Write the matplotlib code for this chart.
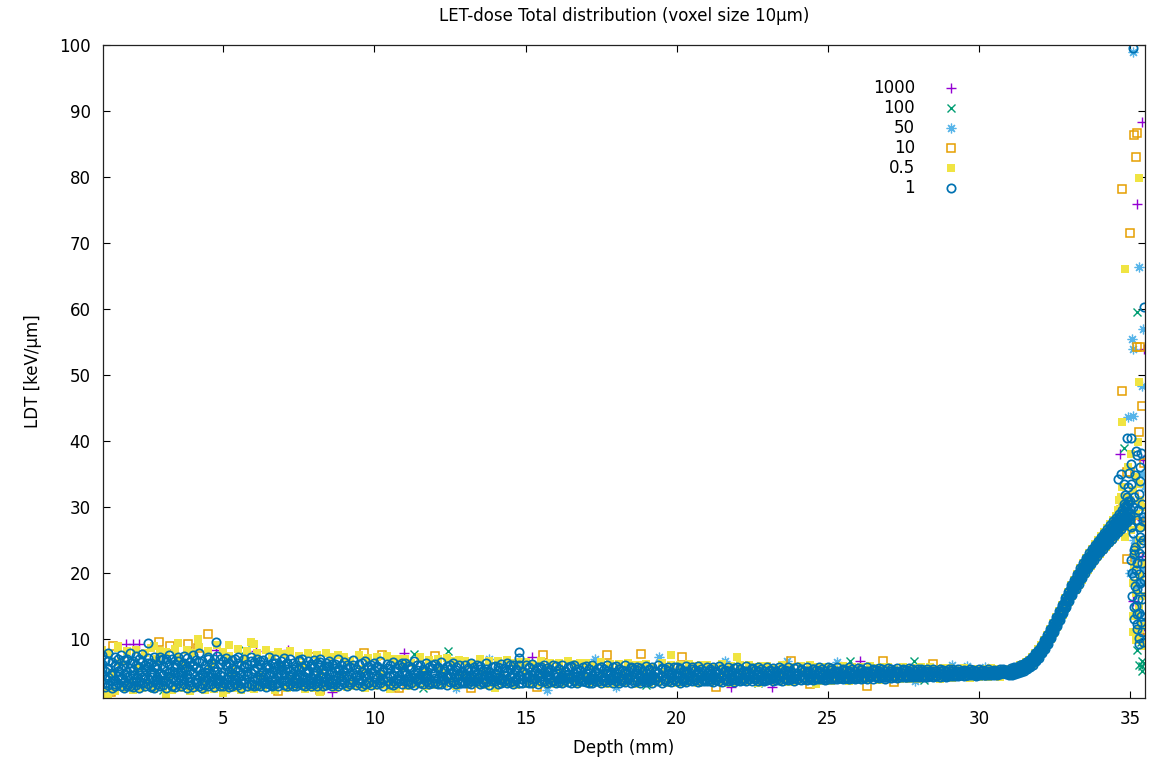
import matplotlib
matplotlib.use("Agg")
import matplotlib.pyplot as plt

# series in gnuplot plotting order (last one drawn on top)
series_names = ["1000", "100", "50", "10", "0.5", "1"]
series_colors = ["#9400d3", "#009e73", "#56b4e9", "#e69f00", "#f0e442", "#0072b2"]

# depth grid shared by the dense band (mm)
band_depth = [
    1.0, 1.1, 1.2, 1.3, 1.4, 1.5, 1.6, 1.7, 1.8, 1.9,
    2.0, 2.1, 2.2, 2.3, 2.4, 2.5, 2.6, 2.7, 2.8, 2.9,
    3.0, 3.1, 3.2, 3.3, 3.4, 3.5, 3.6, 3.7, 3.8, 3.9,
    4.0, 4.1, 4.2, 4.3, 4.4, 4.5, 4.6, 4.7, 4.8, 4.9,
    5.0, 5.1, 5.2, 5.3, 5.4, 5.5, 5.6, 5.7, 5.8, 5.9,
    6.0, 6.1, 6.2, 6.3, 6.4, 6.5, 6.6, 6.7, 6.8, 6.9,
    7.0, 7.1, 7.2, 7.3, 7.4, 7.5, 7.6, 7.7, 7.8, 7.9,
    8.0, 8.1, 8.2, 8.3, 8.4, 8.5, 8.6, 8.7, 8.8, 8.9,
    9.0, 9.1, 9.2, 9.3, 9.4, 9.5, 9.6, 9.7, 9.8, 9.9,
    10.0, 10.1, 10.2, 10.3, 10.4, 10.5, 10.6, 10.7, 10.8, 10.9,
    11.0, 11.1, 11.2, 11.3, 11.4, 11.5, 11.6, 11.7, 11.8, 11.9,
    12.0, 12.1, 12.2, 12.3, 12.4, 12.5, 12.6, 12.7, 12.8, 12.9,
    13.0, 13.1, 13.2, 13.3, 13.4, 13.5, 13.6, 13.7, 13.8, 13.9,
    14.0, 14.1, 14.2, 14.3, 14.4, 14.5, 14.6, 14.7, 14.8, 14.9,
    15.0, 15.1, 15.2, 15.3, 15.4, 15.5, 15.6, 15.7, 15.8, 15.9,
    16.0, 16.1, 16.2, 16.3, 16.4, 16.5, 16.6, 16.7, 16.8, 16.9,
    17.0, 17.1, 17.2, 17.3, 17.4, 17.5, 17.6, 17.7, 17.8, 17.9,
    18.0, 18.1, 18.2, 18.3, 18.4, 18.5, 18.6, 18.7, 18.8, 18.9,
    19.0, 19.1, 19.2, 19.3, 19.4, 19.5, 19.6, 19.7, 19.8, 19.9,
    20.0, 20.1, 20.2, 20.3, 20.4, 20.5, 20.6, 20.7, 20.8, 20.9,
    21.0, 21.1, 21.2, 21.3, 21.4, 21.5, 21.6, 21.7, 21.8, 21.9,
    22.0, 22.1, 22.2, 22.3, 22.4, 22.5, 22.6, 22.7, 22.8, 22.9,
    23.0, 23.1, 23.2, 23.3, 23.4, 23.5, 23.6, 23.7, 23.8, 23.9,
    24.0, 24.1, 24.2, 24.3, 24.4, 24.5, 24.6, 24.7, 24.8, 24.9,
    25.0, 25.1, 25.2, 25.3, 25.4, 25.5, 25.6, 25.7, 25.8, 25.9,
    26.0, 26.1, 26.2, 26.3, 26.4, 26.5, 26.6, 26.7, 26.8, 26.9,
    27.0, 27.1, 27.2, 27.3, 27.4, 27.5, 27.6, 27.7, 27.8, 27.9,
    28.0, 28.1, 28.2, 28.3, 28.4, 28.5, 28.6, 28.7, 28.8, 28.9,
    29.0, 29.1, 29.2, 29.3, 29.4, 29.5, 29.6, 29.7, 29.8, 29.9,
    30.0, 30.1, 30.2, 30.3, 30.4, 30.5, 30.6, 30.7, 30.8, 30.9,
    31.0, 31.05, 31.1, 31.15, 31.2, 31.25, 31.3, 31.35, 31.4, 31.45,
    31.5, 31.55, 31.6, 31.65, 31.7, 31.75, 31.8, 31.85, 31.9, 31.95,
    32.0, 32.05, 32.1, 32.15, 32.2, 32.25, 32.3, 32.35, 32.4, 32.45,
    32.5, 32.55, 32.6, 32.65, 32.7, 32.75, 32.8, 32.85, 32.9, 32.95,
    33.0, 33.05, 33.1, 33.15, 33.2, 33.25, 33.3, 33.35, 33.4, 33.45,
    33.5, 33.55, 33.6, 33.65, 33.7, 33.75, 33.8, 33.85, 33.9, 33.95,
    34.0, 34.05, 34.1, 34.15, 34.2, 34.25, 34.3, 34.35, 34.4, 34.45,
    34.5, 34.55, 34.6, 34.65, 34.7, 34.75, 34.8, 34.85, 34.9, 34.95,
    35.0,
]

# LDT values of series "1" at each band depth (keV/um)
band_ldt_1 = [
    (3.1, 4.6, 6.2, 7.6), (2.7, 5.1, 3.9, 6.8), (4.2, 3.0, 5.6, 7.9), (2.5, 4.8, 6.5, 3.6), (3.8, 5.9, 2.9, 7.2),
    (4.4, 3.3, 6.9, 5.2), (2.8, 5.5, 4.1, 7.5), (3.5, 6.1, 4.7, 2.6), (5.0, 3.2, 7.0, 4.3), (2.9, 4.5, 6.3, 7.8),
    (3.7, 5.3, 2.7, 6.6), (4.1, 6.0, 3.0, 7.4), (2.6, 4.9, 5.8, 3.5), (3.3, 4.2, 6.7, 7.7), (5.4, 2.8, 4.6, 6.1),
    (3.9, 5.7, 3.1, 7.1), (2.7, 4.3, 6.4, 5.0), (4.8, 3.6, 7.3, 2.5), (3.2, 5.5, 6.0, 4.0), (2.9, 4.7, 6.8, 3.8),
    (4.5, 3.0, 5.9, 7.0), (2.6, 5.2, 3.7, 6.5), (3.4, 4.4, 6.2, 7.6), (5.1, 2.8, 4.0, 6.9), (3.6, 5.8, 2.7, 4.9),
    (4.2, 3.3, 6.6, 7.3), (2.8, 5.0, 4.6, 6.0), (3.9, 6.3, 3.1, 5.4), (4.7, 2.6, 5.7, 7.1), (3.0, 4.1, 6.5, 3.5),
    (2.7, 4.8, 6.1, 7.5), (3.5, 5.6, 3.9, 6.8), (4.3, 2.9, 5.3, 7.9), (3.1, 4.5, 6.7, 2.6), (5.0, 3.7, 6.0, 4.2),
    (2.8, 5.4, 4.4, 7.2), (3.6, 4.9, 6.4, 3.2), (4.1, 2.7, 5.8, 6.9), (3.3, 5.2, 4.0, 7.4), (2.9, 4.6, 6.2, 3.8),
    (3.4, 5.0, 2.8, 6.6), (4.0, 5.9, 3.2, 7.1), (2.7, 4.3, 6.3, 5.1), (3.8, 4.7, 6.8, 2.9), (4.6, 3.1, 5.5, 7.0),
    (3.0, 5.3, 4.1, 6.4), (2.6, 4.5, 6.0, 3.6), (3.9, 5.7, 3.3, 6.9), (4.4, 2.8, 5.1, 6.2), (3.2, 4.9, 6.6, 7.3),
    (3.6, 5.4, 2.9, 6.5), (4.2, 3.0, 5.8, 7.0), (2.8, 4.6, 6.2, 3.9), (3.5, 5.1, 4.3, 6.8), (4.8, 3.3, 6.0, 2.7),
    (3.1, 4.4, 5.6, 7.2), (2.9, 5.0, 3.8, 6.3), (4.0, 5.7, 3.2, 6.9), (3.4, 4.8, 6.1, 2.8), (4.5, 3.6, 5.3, 6.6),
    (3.0, 4.7, 6.0, 7.1), (3.7, 5.5, 2.9, 6.4), (4.3, 3.2, 5.2, 6.9), (2.8, 4.9, 6.3, 3.7), (3.9, 5.8, 4.1, 2.9),
    (3.3, 4.5, 6.6, 5.4), (4.6, 3.0, 5.7, 7.0), (2.9, 4.2, 6.1, 3.5), (3.6, 5.3, 4.8, 6.7), (4.1, 3.4, 5.9, 2.8),
    (3.2, 4.6, 5.8, 6.8), (2.9, 5.1, 3.9, 6.3), (4.4, 3.3, 6.0, 7.0), (3.5, 4.8, 5.5, 2.9), (3.0, 4.2, 6.4, 5.1),
    (4.7, 3.6, 5.9, 6.6), (3.3, 5.0, 4.0, 2.8), (3.8, 5.6, 3.1, 6.2), (4.2, 2.9, 5.3, 6.9), (3.1, 4.5, 6.1, 3.7),
    (3.4, 5.1, 6.5), (2.9, 4.6, 6.1), (4.0, 5.7, 3.2), (3.6, 4.8, 6.8), (3.0, 5.4, 4.3),
    (4.5, 3.3, 6.2), (3.8, 5.0, 2.9), (3.2, 4.4, 6.6), (4.7, 5.9, 3.5), (3.0, 4.9, 6.0),
    (3.5, 5.3, 6.4), (4.1, 3.1, 5.8), (3.3, 4.7, 6.7), (2.9, 5.0, 4.0), (3.7, 5.6, 6.2),
    (4.4, 3.2, 5.4), (3.0, 4.5, 6.5), (3.9, 5.2, 3.4), (4.6, 3.6, 6.0), (3.1, 4.8, 5.7),
    (3.6, 5.0, 6.3), (3.2, 4.3, 5.9), (4.2, 5.5, 3.3), (3.0, 4.7, 6.6), (3.8, 5.3, 4.1),
    (4.5, 3.4, 6.1), (3.1, 5.1, 4.4), (3.7, 4.6, 6.4), (4.0, 5.8, 3.2), (3.3, 4.9, 5.6),
    (3.4, 4.8, 6.2), (4.1, 5.6, 3.1), (3.2, 4.4, 6.5), (3.8, 5.2, 4.0), (3.0, 4.6, 5.9),
    (4.3, 5.4, 3.5), (3.5, 4.9, 6.3), (3.1, 4.2, 5.7), (4.6, 3.3, 6.0), (3.7, 5.1, 4.5),
    (3.3, 4.7, 6.1), (3.9, 5.3, 3.4), (3.1, 4.5, 6.4), (4.2, 5.7, 3.6), (3.6, 4.9, 6.0),
    (3.2, 4.3, 5.5), (4.0, 5.2, 3.3), (3.5, 4.6, 6.3), (3.0, 5.0, 4.1), (4.4, 5.8, 3.7),
    (3.6, 4.8, 5.9), (3.2, 5.3, 4.2), (4.1, 3.4, 6.2), (3.7, 4.6, 5.6), (3.3, 5.0, 6.4),
    (4.3, 3.5, 5.4), (3.1, 4.7, 6.0), (3.8, 5.5, 4.0), (3.4, 4.4, 6.1), (4.0, 5.1, 3.3),
    (3.5, 4.9, 6.0), (4.2, 3.4, 5.7), (3.3, 4.6, 6.2), (3.9, 5.2, 4.1), (3.2, 4.8, 5.8),
    (4.4, 3.6, 5.5), (3.6, 5.0, 6.1), (3.3, 4.3, 5.6), (4.1, 5.4, 3.5), (3.7, 4.7, 6.0),
    (3.4, 4.8, 5.9), (4.0, 5.5, 3.5), (3.3, 4.5, 6.1), (3.8, 5.1, 4.2), (3.5, 4.7, 5.7),
    (4.2, 3.4, 5.9), (3.6, 4.9, 6.0), (3.3, 4.4, 5.5), (4.1, 5.3, 3.6), (3.7, 4.6, 5.8),
    (3.5, 4.9, 5.9), (3.9, 5.4, 3.4), (3.4, 4.6, 6.0), (4.1, 5.2, 3.7), (3.6, 4.8, 5.6),
    (3.3, 4.3, 5.8), (4.3, 5.5, 3.6), (3.5, 4.7, 6.1), (3.8, 5.0, 4.1), (3.4, 4.5, 5.7),
    (3.7, 5.0, 5.9), (3.4, 4.4, 5.5), (4.0, 5.3, 3.6), (3.5, 4.7, 6.0), (3.9, 5.1, 4.2),
    (3.3, 4.6, 5.7), (4.2, 5.4, 3.5), (3.6, 4.8, 5.8), (3.4, 4.3, 5.6), (4.1, 5.2, 3.7),
    (3.5, 4.8, 5.9), (3.9, 5.3, 3.6), (3.4, 4.5, 5.8), (4.2, 5.1, 3.8), (3.6, 4.9, 6.0),
    (3.4, 4.4, 5.5), (4.0, 5.5, 3.7), (3.7, 4.7, 5.8), (3.5, 5.0, 4.3), (3.9, 4.6, 5.7),
    (3.6, 4.9, 5.8), (3.4, 4.5, 5.6), (4.1, 5.2, 3.7), (3.5, 4.7, 5.9), (3.8, 5.0, 4.3),
    (3.6, 4.4, 5.7), (4.2, 5.3, 3.8), (3.5, 4.8, 5.9), (3.7, 4.6, 5.5), (4.0, 5.1, 3.6),
    (3.6, 4.8, 5.8), (3.9, 5.2, 3.7), (3.5, 4.6, 5.7), (4.2, 5.0, 3.8), (3.7, 4.9, 5.9),
    (3.5, 4.4, 5.5), (4.0, 5.3, 3.8), (3.6, 4.7, 5.8), (3.8, 5.1, 4.3), (3.5, 4.5, 5.6),
    (3.8, 4.9, 5.7), (3.6, 4.6, 5.5), (4.1, 5.2, 3.8), (3.7, 4.8, 5.9), (3.9, 5.0, 4.4),
    (3.6, 4.5, 5.6), (4.2, 5.3, 3.9), (3.7, 4.7, 5.8), (3.8, 4.6, 5.4), (4.0, 5.1, 3.7),
    (3.8, 4.8, 5.7), (4.0, 5.2, 3.9), (3.7, 4.6, 5.6), (4.2, 5.0, 3.8), (3.8, 4.9, 5.8),
    (3.7, 4.5, 5.5), (4.1, 5.3, 3.9), (3.8, 4.7, 5.7), (3.9, 5.1, 4.4), (3.7, 4.6, 5.6),
    (3.9, 4.9, 5.7), (3.8, 4.6, 5.5), (4.2, 5.2, 3.9), (3.8, 4.8, 5.8), (4.0, 5.0, 4.4),
    (3.8, 4.6, 5.5), (4.3, 5.3, 4.0), (3.9, 4.8, 5.7), (4.0, 4.7, 5.4), (4.1, 5.1, 3.8),
    (4.0, 4.9, 5.7), (3.9, 4.7, 5.6), (4.3, 5.2, 4.0), (3.9, 4.8, 5.8), (4.1, 5.0, 4.5),
    (3.9, 4.6, 5.5), (4.3, 5.3, 4.1), (4.0, 4.8, 5.7), (4.1, 4.7, 5.4), (4.2, 5.1, 3.9),
    (4.1, 4.9, 5.6), (4.0, 4.8, 5.5), (4.3, 5.2, 4.1), (4.0, 4.9, 5.7), (4.2, 5.0, 4.5),
    (4.0, 4.7, 5.5), (4.4, 5.3, 4.2), (4.1, 4.9, 5.6), (4.2, 4.8, 5.4), (4.3, 5.1, 4.0),
    (4.2, 4.9, 5.6), (4.1, 4.8, 5.5), (4.4, 5.2, 4.2), (4.1, 4.9, 5.6), (4.3, 5.0, 4.6),
    (4.2, 4.8, 5.4), (4.5, 5.3, 4.3), (4.2, 4.9, 5.6), (4.3, 4.8, 5.4), (4.4, 5.1, 4.2),
    (4.3, 4.9, 5.5), (4.2, 4.8, 5.4), (4.5, 5.2, 4.3), (4.3, 4.9, 5.5), (4.4, 5.0, 4.7),
    (4.3, 4.8, 5.4), (4.6, 5.2, 4.4), (4.3, 4.9, 5.5), (4.4, 4.9, 5.3), (4.5, 5.1, 4.3),
    (4.4, 4.9, 5.5), (4.4, 4.8, 5.4), (4.6, 5.1, 4.4), (4.4, 4.9, 5.4), (4.5, 5.0, 4.7),
    (4.4, 4.8, 5.3), (4.6, 5.2, 4.5), (4.5, 4.9, 5.4), (4.5, 4.9, 5.3), (4.6, 5.1, 4.4),
    (4.5, 4.9, 5.4), (4.5, 4.9, 5.3), (4.6, 5.1, 4.5), (4.6, 5.0, 5.4), (4.6, 5.0, 4.8),
    (4.6, 4.9, 5.3), (4.7, 5.2, 4.6), (4.7, 5.0, 5.4), (4.8, 5.1, 5.4), (4.9, 5.3, 4.7),
    # Bragg peak rise
    (4.8, 5.2, 4.5), (4.8, 5.3, 5.6), (4.9, 5.3, 4.6), (4.9, 5.4, 5.7), (5.0, 5.4, 4.7),
    (5.0, 5.5, 5.8), (5.1, 5.6, 4.8), (5.2, 5.7, 6.0), (5.3, 5.8, 5.0), (5.4, 5.9, 6.2),
    (5.5, 6.0, 5.2), (5.6, 6.2, 6.5), (5.7, 6.3, 5.4), (5.9, 6.5, 6.8), (6.1, 6.7, 5.8),
    (6.3, 7.0, 7.3), (6.5, 7.2, 6.1), (6.7, 7.5, 7.8), (7.0, 7.8, 6.6), (7.3, 8.1, 8.4),
    (7.5, 8.4, 7.1), (7.9, 8.7, 9.0), (8.2, 9.1, 7.8), (8.6, 9.5, 9.8), (8.9, 9.8, 8.5),
    (9.3, 10.2, 10.6), (9.7, 10.7, 9.3), (10.1, 11.1, 11.5), (10.5, 11.5, 10.1), (11.0, 12.0, 12.4),
    (11.4, 12.4, 11.0), (11.9, 12.9, 13.3), (12.3, 13.4, 11.9), (12.8, 13.8, 14.2), (13.3, 14.3, 12.9),
    (13.8, 14.8, 15.2), (14.3, 15.3, 13.9), (14.7, 15.8, 16.2), (15.2, 16.3, 14.8), (15.7, 16.7, 17.1),
    (16.2, 17.2, 15.8), (16.6, 17.7, 18.1), (17.1, 18.1, 16.7), (17.5, 18.6, 19.0), (18.0, 19.0, 17.6),
    (18.4, 19.5, 19.9), (18.8, 19.9, 18.4), (19.2, 20.3, 20.7), (19.6, 20.7, 19.2), (20.0, 21.1, 21.5),
    (20.4, 21.5, 20.0), (20.7, 21.9, 22.3), (21.1, 22.2, 20.7), (21.4, 22.6, 23.0), (21.7, 22.9, 21.3),
    (22.0, 23.2, 23.6), (22.4, 23.6, 22.0), (22.7, 23.9, 24.3), (23.0, 24.2, 22.6), (23.2, 24.5, 24.9),
    (23.5, 24.8, 23.1), (23.8, 25.1, 25.5), (24.1, 25.4, 23.7), (24.3, 25.7, 26.1), (24.6, 25.9, 24.2),
    (24.9, 26.2, 26.6), (25.1, 26.5, 24.7), (25.4, 26.8, 27.2), (25.6, 27.1, 25.2), (25.9, 27.4, 27.8),
    (26.1, 27.7, 25.7), (26.4, 27.9, 28.3), (26.6, 28.2, 26.2), (26.9, 28.5, 28.9), (27.1, 28.8, 26.7),
    (27.3, 29.1, 29.5), (27.6, 29.4, 27.2), (27.8, 29.8, 30.2), (28.1, 30.1, 27.7), (28.3, 30.5, 30.9),
    (28.6, 30.9, 28.2),
]

# extra LDT values of series "1", one per band depth (fills the core of the band)
band_ldt_1b = [
    5.4, 3.4, 6.6, 4.5, 3.2, 5.9, 4.0, 6.8, 2.8, 5.6,
    4.6, 3.5, 7.0, 5.2, 3.9, 6.3, 2.9, 5.7, 4.3, 7.2,
    3.6, 6.9, 4.8, 2.9, 6.2, 5.0, 3.8, 7.4, 4.1, 5.3,
    5.9, 3.3, 6.5, 4.9, 3.0, 6.9, 4.2, 5.1, 3.6, 7.0,
    4.4, 6.2, 3.1, 5.6, 4.0, 7.2, 3.4, 5.9, 4.7, 3.0,
    5.1, 4.0, 6.7, 3.4, 5.7, 4.7, 3.0, 6.4, 4.4, 5.9,
    3.8, 6.3, 4.5, 5.4, 3.3, 6.8, 4.1, 5.0, 3.2, 6.2,
    4.9, 3.6, 6.5, 4.3, 5.9, 3.1, 6.2, 4.6, 5.4, 3.9,
    4.3, 5.6, 3.5, 6.1, 4.5, 3.8, 6.4, 4.9, 3.4, 5.5,
    4.4, 5.9, 3.8, 5.3, 4.2, 6.1, 3.6, 5.6, 4.0, 6.3,
    4.5, 3.6, 5.7, 4.1, 6.0, 3.9, 5.5, 4.2, 3.5, 6.1,
    4.1, 5.8, 3.8, 5.5, 4.3, 6.0, 3.6, 5.3, 4.7, 3.4,
    4.4, 5.6, 3.7, 5.2, 4.1, 5.9, 3.5, 5.4, 4.6, 3.9,
    4.3, 5.7, 3.8, 5.1, 4.0, 6.0, 3.6, 5.3, 4.5, 3.9,
    4.2, 5.6, 3.9, 5.2, 4.4, 5.8, 3.7, 5.0, 4.6, 3.6,
    4.3, 5.4, 3.9, 5.2, 4.2, 5.8, 3.8, 5.0, 4.5, 3.7,
    4.2, 5.5, 3.9, 5.0, 4.4, 5.7, 3.8, 5.2, 4.6, 3.9,
    4.3, 5.5, 3.9, 5.1, 4.1, 5.6, 3.8, 5.3, 4.6, 3.9,
    4.2, 5.5, 4.0, 5.1, 4.3, 5.6, 3.9, 5.2, 4.5, 3.8,
    4.2, 5.4, 4.0, 5.2, 4.4, 5.5, 3.9, 5.1, 4.6, 3.9,
    4.3, 5.4, 4.1, 5.2, 4.2, 5.5, 3.9, 5.1, 4.5, 4.0,
    4.3, 5.4, 4.1, 5.2, 4.4, 5.4, 4.0, 5.2, 4.6, 3.9,
    4.3, 5.3, 4.1, 5.1, 4.4, 5.4, 4.0, 5.2, 4.5, 4.1,
    4.4, 5.3, 4.2, 5.2, 4.3, 5.4, 4.1, 5.1, 4.6, 4.2,
    4.4, 5.3, 4.2, 5.1, 4.5, 5.3, 4.1, 5.2, 4.6, 4.3,
    4.5, 5.3, 4.3, 5.2, 4.4, 5.3, 4.2, 5.1, 4.6, 4.3,
    4.5, 5.2, 4.4, 5.1, 4.6, 5.3, 4.3, 5.2, 4.7, 4.4,
    4.6, 5.2, 4.5, 5.1, 4.6, 5.2, 4.4, 5.2, 4.7, 4.5,
    4.7, 5.2, 4.6, 5.1, 4.7, 5.2, 4.6, 5.1, 4.8, 4.6,
    4.7, 5.2, 4.8, 5.1, 4.8, 5.2, 4.8, 5.1, 4.9, 5.0,
    5.0, 5.1, 5.1, 5.2, 5.2, 5.3, 5.3, 5.4, 5.5, 5.7,
    5.8, 5.9, 6.0, 6.2, 6.4, 6.6, 6.9, 7.1, 7.4, 7.7,
    7.9, 8.3, 8.6, 9.0, 9.4, 9.8, 10.2, 10.6, 11.0, 11.5,
    11.9, 12.4, 12.8, 13.3, 13.8, 14.3, 14.8, 15.2, 15.7, 16.2,
    16.7, 17.1, 17.6, 18.0, 18.5, 19.0, 19.4, 19.8, 20.2, 20.5,
    20.9, 21.3, 21.6, 22.0, 22.3, 22.6, 23.0, 23.3, 23.6, 23.9,
    24.1, 24.4, 24.7, 25.0, 25.2, 25.5, 25.8, 26.1, 26.3, 26.6,
    26.9, 27.2, 27.4, 27.7, 28.0, 28.2, 28.5, 28.8, 29.1, 29.4,
    29.7,
]

# LDT values of series "0.5" at each band depth
band_ldt_05 = [
    8.3, 2.3, 7.9, 4.8, 2.1, 8.6, 6.5, 2.6, 8.1, 3.4,
    2.2, 8.4, 5.6, 2.5, 7.8, 3.0, 8.7, 2.4, 6.9, 8.2,
    2.7, 8.0, 4.2, 2.3, 8.5, 7.3, 2.5, 5.9, 8.3, 2.1,
    7.9, 2.6, 8.8, 3.8, 2.2, 8.2, 6.1, 2.4, 9.1, 2.8,
    8.0, 2.3, 7.4, 5.2, 2.6, 8.5, 2.2, 6.8, 8.1, 2.5,
    2.4, 7.8, 4.5, 2.7, 8.3, 3.2, 7.6, 2.3, 8.0, 5.7,
    7.7, 2.5, 8.1, 3.9, 2.8, 7.4, 6.0, 2.4, 7.9, 2.9,
    2.6, 7.5, 5.0, 2.9, 7.8, 3.3, 7.2, 2.5, 7.6, 4.4,
    7.3, 2.7, 6.6, 3.6, 2.9, 7.5, 5.4, 2.6, 7.1, 3.1,
    2.8, 7.2, 4.7, 3.0, 7.4, 3.5, 6.9, 2.7, 7.0, 5.8,
    7.0, 2.9, 6.4, 3.8, 3.1, 7.2, 4.9, 2.8, 6.8, 3.3,
    3.0, 6.9, 5.3, 3.2, 7.1, 3.6, 6.6, 2.9, 6.8, 4.2,
    6.7, 3.1, 6.2, 3.9, 3.2, 6.9, 5.0, 3.0, 6.6, 3.4,
    3.1, 6.6, 4.6, 3.3, 6.8, 3.7, 6.4, 3.0, 6.5, 5.5,
    6.5, 3.2, 6.1, 4.0, 3.3, 6.7, 4.8, 3.1, 6.4, 3.5,
    3.2, 6.4, 5.2, 3.4, 6.6, 3.8, 6.2, 3.1, 6.3, 4.3,
    6.3, 3.3, 5.9, 4.1, 3.4, 6.5, 4.9, 3.2, 6.2, 3.6,
    3.3, 6.2, 4.7, 3.5, 6.4, 3.9, 6.0, 3.2, 6.1, 5.4,
    6.2, 3.4, 5.8, 4.2, 3.5, 6.3, 5.0, 3.3, 6.0, 3.7,
    3.4, 6.1, 5.1, 3.5, 6.2, 3.9, 5.9, 3.3, 6.0, 4.4,
    6.0, 3.5, 5.7, 4.2, 3.6, 6.2, 4.8, 3.4, 5.9, 3.8,
    3.5, 6.0, 4.9, 3.6, 6.1, 4.0, 5.8, 3.4, 5.9, 5.2,
    5.9, 3.6, 5.6, 4.3, 3.7, 6.0, 5.0, 3.5, 5.8, 3.9,
    3.6, 5.9, 5.1, 3.7, 6.0, 4.1, 5.7, 3.6, 5.8, 4.5,
    5.8, 3.7, 5.5, 4.4, 3.8, 5.9, 4.9, 3.7, 5.7, 4.0,
    3.8, 5.8, 5.0, 3.9, 5.9, 4.2, 5.6, 3.8, 5.7, 4.6,
    5.7, 3.9, 5.4, 4.5, 4.0, 5.8, 5.0, 3.9, 5.6, 4.1,
    4.0, 5.7, 5.1, 4.1, 5.7, 4.4, 5.5, 4.0, 5.6, 4.7,
    5.6, 4.1, 5.4, 4.6, 4.2, 5.6, 5.0, 4.1, 5.5, 4.3,
    4.3, 5.5, 5.1, 4.3, 5.6, 4.6, 5.4, 4.3, 5.5, 4.8,
    4.6, 5.5, 4.7, 5.6, 4.8, 5.8, 4.9, 6.0, 5.1, 6.2,
    5.3, 6.5, 5.5, 6.8, 5.8, 7.3, 6.2, 7.9, 6.7, 8.5,
    7.2, 9.1, 7.8, 9.9, 8.5, 10.6, 9.2, 11.5, 10.0, 12.4,
    10.9, 13.3, 11.8, 14.2, 12.8, 15.2, 13.7, 16.2, 14.7, 17.1,
    15.6, 18.1, 16.5, 19.0, 17.4, 19.9, 18.2, 20.7, 19.0, 21.5,
    19.8, 22.3, 20.5, 23.0, 21.1, 23.7, 21.8, 24.4, 22.4, 25.0,
    22.9, 25.6, 23.5, 26.2, 24.0, 26.8, 24.5, 27.4, 25.0, 28.0,
    25.5, 28.6, 26.0, 29.3, 26.5, 30.0, 27.0, 30.7, 27.4, 31.4,
    27.9,
]

# scattered points (outliers and the distal fall-off)
s1_depth = [2.5, 4.76, 14.78, 14.78, 35.11, 35.46, 34.89, 35.03, 35.25, 35.2, 34.61, 34.95, 35.05,
            35.3, 35.15, 35.4, 35.0, 35.22, 35.35, 35.1, 35.42, 35.18, 35.3, 35.05, 35.4, 35.2,
            35.12, 35.35, 35.25, 35.08, 35.4, 35.2, 35.3, 35.15, 35.38, 35.25, 35.3, 35.42, 34.8,
            34.72, 35.32, 34.85, 34.98, 35.28, 35.44, 35.36, 35.14, 35.45, 35.24,
            35.02, 35.35, 35.1, 35.27, 35.44, 35.05, 35.32, 35.13, 35.4, 35.22, 35.08, 35.3,
            35.16, 35.42, 35.28, 35.12, 35.36, 35.22, 35.4, 35.3, 34.9, 34.82, 35.18, 35.36]
s1_ldt = [9.4, 9.5, 8.0, 7.1, 99.5, 60.3, 40.5, 40.5, 37.8, 38.5, 34.3, 33.0, 33.5,
          32.0, 31.5, 30.5, 29.0, 28.0, 27.0, 26.0, 25.0, 24.0, 23.0, 22.0, 21.5, 20.5,
          19.5, 18.5, 17.5, 16.5, 16.0, 15.0, 14.0, 13.0, 12.5, 11.5, 10.2, 9.5, 33.5,
          35.0, 36.0, 31.8, 35.2, 29.5, 27.8, 24.5, 22.8, 19.0, 13.8,
          36.5, 34.0, 30.0, 29.5, 28.5, 27.0, 25.5, 23.5, 22.5, 21.5, 20.0, 19.8,
          18.0, 17.5, 16.0, 14.8, 13.5, 12.2, 11.0, 9.2, 31.5, 30.5, 34.8, 38.2]

s05_depth = [4.16, 5.2, 6.03, 1.5, 2.7, 3.5, 5.9, 22.0, 19.8, 1.2, 3.1, 5.0, 8.2, 10.5, 14.0, 24.6,
             35.31, 34.83, 35.31, 34.75, 35.28, 34.72, 34.78, 34.68, 34.85, 35.2, 35.35, 35.4,
             35.25, 35.15, 35.35, 35.2, 35.3, 35.1, 35.4, 35.25, 35.45, 35.15, 34.95, 35.05,
             35.1, 35.3, 35.0, 35.2, 35.45, 35.05, 35.3, 35.45, 35.1, 35.42, 35.2, 35.35,
             35.1, 35.2, 34.6, 34.75, 34.65]
s05_ldt = [10.0, 9.1, 9.3, 8.9, 9.0, 9.4, 9.6, 7.2, 7.5, 1.6, 1.5, 1.8, 2.0, 2.4, 2.6, 3.2,
           79.8, 66.0, 48.9, 42.9, 39.8, 31.5, 29.0, 27.0, 25.5, 34.5, 31.0, 27.0,
           24.0, 21.0, 19.5, 17.0, 15.0, 13.5, 12.0, 10.5, 9.0, 23.0, 36.0, 38.0,
           32.5, 33.5, 31.0, 29.0, 30.0, 26.5, 25.0, 21.5, 18.5, 16.5, 14.0, 11.5,
           11.0, 9.8, 29.5, 33.0, 31.0]

s10_depth = [1.34, 3.83, 4.16, 3.22, 2.88, 4.49, 1.28, 8.04, 8.2, 9.65, 10.25, 12.0, 13.2, 15.58,
             17.7, 18.81, 20.17, 15.39, 21.3, 23.8, 24.4, 26.84, 26.29, 28.5, 27.2, 6.8, 10.8,
             35.14, 35.25, 35.2, 34.75, 34.99, 35.22, 35.33, 34.75, 35.39, 35.31, 35.45, 34.89,
             35.0, 34.89, 35.39, 35.45, 35.45, 35.12, 34.7, 35.3]
s10_ldt = [9.0, 9.2, 8.7, 9.0, 9.5, 10.8, 1.9, 7.2, 2.2, 7.8, 7.6, 7.4, 2.6, 7.6,
           7.5, 7.7, 7.3, 2.7, 2.7, 6.6, 3.1, 6.7, 2.9, 6.2, 3.5, 2.1, 2.5,
           86.4, 86.6, 83.1, 78.2, 71.5, 54.2, 54.2, 47.6, 45.3, 41.4, 36.6, 35.3,
           35.3, 22.1, 22.4, 11.0, 10.2, 31.5, 29.5, 27.5]

s50_depth = [15.72, 19.42, 23.64, 13.8, 17.3, 21.6, 25.3, 29.1, 29.6, 30.2, 12.7, 18.0, 27.9,
             35.11, 35.31, 35.42, 35.06, 35.11, 35.39, 34.94, 35.09, 34.85, 35.4, 35.45,
             35.0, 35.2, 35.3, 35.4, 35.15, 34.8, 35.35,
             35.45, 35.47, 35.0, 35.42, 35.1, 35.3]
s50_ldt = [2.2, 7.2, 6.6, 6.9, 6.9, 6.7, 6.5, 6.0, 5.9, 5.7, 2.6, 2.7, 3.7,
           99.0, 66.4, 56.9, 55.4, 53.9, 48.3, 43.6, 43.8, 30.0, 35.0, 33.0,
           20.0, 18.0, 14.0, 12.5, 25.0, 27.0, 19.0,
           28.5, 25.0, 31.0, 20.5, 22.0, 30.5]

s100_depth = [11.3, 12.44, 5.72, 25.74, 27.84, 3.0, 11.6, 19.0, 22.7, 28.2,
              35.22, 34.81, 35.25, 35.41, 35.41, 35.41, 35.3, 35.45, 35.38]
s100_ldt = [7.7, 8.1, 8.3, 6.6, 6.7, 2.2, 2.6, 3.0, 3.3, 3.8,
            59.5, 38.9, 8.3, 6.7, 5.9, 5.2, 6.0, 6.4, 9.5]

s1000_depth = [1.78, 2.0, 2.22, 6.08, 7.13, 4.76, 10.97, 8.6, 15.22, 21.8, 26.07, 23.14,
               35.39, 35.24, 35.46, 34.67, 35.11, 35.43, 35.43, 35.39, 35.39]
s1000_ldt = [9.2, 9.2, 9.2, 8.2, 8.3, 8.3, 7.8, 1.9, 7.3, 2.7, 6.7, 2.7,
             88.4, 75.9, 54.0, 38.0, 15.8, 11.3, 37.1, 28.0, 22.6]

# merge band + scattered points per series
x1 = [d for d, row in zip(band_depth, band_ldt_1) for _ in row] + band_depth + s1_depth
y1 = [v for row in band_ldt_1 for v in row] + band_ldt_1b + s1_ldt
x05 = band_depth + s05_depth
y05 = band_ldt_05 + s05_ldt

series_x = [s1000_depth, s100_depth, s50_depth, s10_depth, x05, x1]
series_y = [s1000_ldt, s100_ldt, s50_ldt, s10_ldt, y05, y1]

styles = [
    dict(marker='+', ms=7, mew=1.0),
    dict(marker='x', ms=5.5, mew=1.0),
    dict(marker=(8, 2, 0), ms=7, mew=0.9),
    dict(marker='s', ms=5.5, mew=1.1, mfc='none'),
    dict(marker='s', ms=5.6, mew=0),
    dict(marker='o', ms=6, mew=1.25, mfc='none'),
]

plt.rcParams['font.family'] = ['DejaVu Sans']
plt.rcParams['font.size'] = 12

fig = plt.figure(figsize=(11.67, 7.65), dpi=100)
ax = fig.add_axes([0.0883, 0.088, 0.8926, 0.8532])

for xs, ys, col, st in zip(series_x, series_y, series_colors, styles):
    ax.plot(xs, ys, linestyle='none', color=col, mec=col, **st)

ax.set_xlim(1.02, 35.49)
ax.set_ylim(1.1, 100)
ax.set_xticks([5, 10, 15, 20, 25, 30, 35])
ax.set_yticks([10, 20, 30, 40, 50, 60, 70, 80, 90, 100])
ax.tick_params(direction='in', length=5, width=0.8, top=True, right=True,
               labelsize=12, colors='black')
ax.tick_params(axis='x', pad=9)
ax.tick_params(axis='y', pad=9)
for sp in ax.spines.values():
    sp.set_linewidth(0.9)
    sp.set_color('#222222')

ax.set_title("LET-dose Total distribution (voxel size 10µm)", fontsize=12, pad=17)
ax.set_xlabel("Depth (mm)", fontsize=12, labelpad=8)
ax.set_ylabel("LDT [keV/µm]", fontsize=12, labelpad=12)

# key, gnuplot style: right-justified label then sample
for i, (name, col, st) in enumerate(zip(series_names, series_colors, styles)):
    ky = 0.934 - i * 0.0306
    ax.text(0.7795, ky, name, ha='right', va='center', transform=ax.transAxes, fontsize=12)
    ax.plot([0.814], [ky], linestyle='none', color=col, mec=col,
            transform=ax.transAxes, clip_on=False, **st)

fig.savefig("out.png", dpi=100)
